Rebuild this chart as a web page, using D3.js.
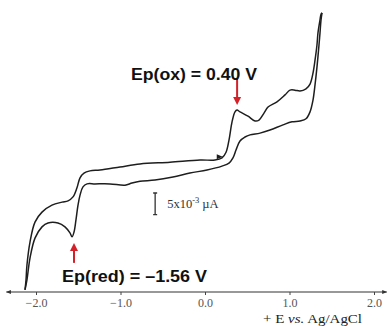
<!DOCTYPE html>
<html>
<head>
<meta charset="utf-8">
<script src="https://cdn.jsdelivr.net/npm/d3@7"></script>
<style>
	body { margin: 0; background: #fff; }
	svg { display: block; }
</style>
</head>
<body>
<script>
// forward (anodic) scan, E in V vs Ag/AgCl, I in nA
const fwdE = [-2.13, -2.118, -2.107, -2.071, -2.012, -1.929, -1.811, -1.692, -1.621, -1.562, -1.515, -1.479, -1.432, -1.361, -1.243, -1.006, -0.769, -0.414, -0.059, 0.118, 0.201, 0.249, 0.284, 0.32, 0.355, 0.379, 0.414, 0.509, 0.592, 0.639, 0.698, 0.746, 0.852, 0.947, 1.006, 1.065, 1.124, 1.195, 1.243, 1.278, 1.302, 1.325, 1.337, 1.361, 1.373, 1.385]
const fwdI = [-27.6, -25.3, -21.9, -16.6, -12.0, -9.7, -8.1, -7.4, -7.1, -6.2, -4.1, -1.8, -0.7, -0.2, 0, 0.7, 1.4, 1.8, 2.3, 2.3, 2.8, 4.1, 6.9, 11.1, 13.4, 13.8, 13.4, 12.4, 11.3, 11.5, 13.1, 14.5, 15.7, 17.3, 18.4, 18.4, 18.2, 18.7, 19.8, 22.3, 25.3, 28.8, 31.6, 34.6, 35.9, 36.2]
// reverse (cathodic) scan
const revE = [1.385, 1.373, 1.361, 1.349, 1.325, 1.302, 1.278, 1.243, 1.195, 1.124, 1.03, 0.923, 0.769, 0.651, 0.533, 0.473, 0.414, 0.367, 0.331, 0.284, 0.201, 0.024, -0.178, -0.379, -0.592, -0.769, -0.864, -0.947, -1.124, -1.302, -1.396, -1.444, -1.479, -1.503, -1.527, -1.55, -1.574, -1.598, -1.657, -1.74, -1.858, -1.929, -2.012, -2.071, -2.107, -2.13]
const revI = [36.2, 34.6, 31.6, 28.8, 23.7, 19.6, 16.1, 13.4, 11.8, 11.3, 11.1, 10.4, 9.2, 8.5, 8.1, 7.6, 6.7, 4.6, 2.8, 1.6, 0.9, 0, -0.7, -1.6, -2.3, -2.6, -3.0, -3.5, -3.2, -3.2, -3.2, -3.9, -5.8, -8.1, -11.5, -14.3, -15.4, -14.5, -13.1, -12.2, -12.2, -13.1, -15.7, -20.3, -25.3, -27.6]

const tickValues = [-2, -1, 0, 1, 2]
const axisTitle = ['+ E ', 'vs.', ' Ag/AgCl']
const oxLabel = 'Ep(ox) = 0.40 V'
const redLabel = 'Ep(red) = \u20131.56 V'
const oxArrowE = 0.38, oxArrowI = [21.2, 15.0]
const redArrowE = -1.55, redArrowI = [-21.4, -16.8]
const scanArrowE = 0.21
const scaleBarE = -0.59, scaleBarTop = -5.3, scaleBarValue = 5

const width = 388, height = 326
const svg = d3.select('body').append('svg').attr('width', width).attr('height', height)

const x = d3.scaleLinear().domain([-2, 2]).range([36, 374])
const y = d3.scaleLinear().domain([-30, 40]).range([300.2, -3.6])
const axisY = 292

const defs = svg.append('defs')
defs.append('marker').attr('id', 'axhead')
	.attr('viewBox', '0 0 10 10').attr('refX', 9).attr('refY', 5)
	.attr('markerWidth', 6).attr('markerHeight', 5).attr('orient', 'auto-start-reverse')
	.attr('markerUnits', 'userSpaceOnUse')
	.append('path').attr('d', 'M0,1 L10,5 L0,9 Z').attr('fill', '#333')

// x axis
svg.append('line')
	.attr('x1', x(-2.35)).attr('x2', x(2.15))
	.attr('y1', axisY).attr('y2', axisY)
	.attr('stroke', '#333').attr('stroke-width', 1.2)
	.attr('marker-start', 'url(#axhead)').attr('marker-end', 'url(#axhead)')
const gx = svg.append('g').attr('transform', `translate(0,${axisY})`)
	.call(d3.axisBottom(x).tickValues(tickValues).tickSize(3).tickPadding(3).tickFormat(d3.format('.1f')))
gx.select('.domain').remove()
gx.selectAll('.tick line').attr('stroke', '#444')
gx.selectAll('.tick text')
	.attr('font-family', '"Liberation Serif", "Times New Roman", serif')
	.attr('font-size', 12).attr('fill', '#555')

const title = svg.append('text')
	.attr('x', 263).attr('y', 323)
	.attr('font-family', '"Liberation Serif", "Times New Roman", serif')
	.attr('font-size', 12).attr('fill', '#222')
	.attr('textLength', 99).attr('lengthAdjust', 'spacingAndGlyphs')
title.selectAll('tspan').data(axisTitle).join('tspan')
	.attr('font-style', (_, i) => i === 1 ? 'italic' : null)
	.text(d => d)

// CV curves
const line = d3.line()
	.x(d => x(d[0]))
	.y(d => y(d[1]))
	.curve(d3.curveCatmullRom.alpha(0.5))
const curves = [d3.zip(fwdE, fwdI), d3.zip(revE, revI)]
svg.selectAll('path.cv').data(curves).join('path').classed('cv', true)
	.attr('d', line)
	.attr('fill', 'none')
	.attr('stroke', '#1e1e1e')
	.attr('stroke-width', 1.5)
	.attr('stroke-linejoin', 'round')

// scan direction arrow on the forward branch
const scanI = d3.scaleLinear().domain(fwdE).range(fwdI)(scanArrowE)
const sx = x(scanArrowE), sy = y(scanI)
svg.append('path')
	.attr('d', `M${sx - 6},${sy - 2.5} L${sx},${sy} L${sx - 6},${sy + 2.5} Z`)
	.attr('fill', '#1e1e1e')

// scale bar
const bx = x(scaleBarE)
const by0 = y(scaleBarTop), by1 = y(scaleBarTop - scaleBarValue)
svg.append('path')
	.attr('d', `M${bx},${by0} V${by1} M${bx - 2},${by0} H${bx + 2} M${bx - 2},${by1} H${bx + 2}`)
	.attr('stroke', '#333').attr('stroke-width', 1.3).attr('fill', 'none')
const barText = svg.append('text')
	.attr('x', bx + 12).attr('y', (by0 + by1) / 2 + 4)
	.attr('font-family', '"Liberation Serif", "Times New Roman", serif')
	.attr('font-size', 12.5).attr('fill', '#333')
barText.append('tspan').text('5x10')
barText.append('tspan').attr('dy', -5).attr('font-size', 8.5).text('-3')
barText.append('tspan').attr('dy', 5).text(' \u00b5A')

// peak annotations
const red = '#d42028'
const arrow = (e, iFrom, iTo) => {
	const ax = x(e), y0 = y(iFrom), y1 = y(iTo)
	const dir = Math.sign(y1 - y0)
	svg.append('line')
		.attr('x1', ax).attr('x2', ax).attr('y1', y0).attr('y2', y1 - dir * 6)
		.attr('stroke', red).attr('stroke-width', 2)
	svg.append('path')
		.attr('d', `M${ax - 4},${y1 - dir * 8} L${ax},${y1} L${ax + 4},${y1 - dir * 8} Z`)
		.attr('fill', red)
}
arrow(oxArrowE, oxArrowI[0], oxArrowI[1])
arrow(redArrowE, redArrowI[0], redArrowI[1])

const boldFont = '"Liberation Sans", Arial, Helvetica, sans-serif'
svg.append('text')
	.attr('x', 131).attr('y', 80)
	.attr('font-family', boldFont).attr('font-weight', 'bold')
	.attr('font-size', 16).attr('fill', '#111')
	.attr('textLength', 126).attr('lengthAdjust', 'spacingAndGlyphs')
	.text(oxLabel)
svg.append('text')
	.attr('x', 62).attr('y', 282)
	.attr('font-family', boldFont).attr('font-weight', 'bold')
	.attr('font-size', 16).attr('fill', '#111')
	.attr('textLength', 145).attr('lengthAdjust', 'spacingAndGlyphs')
	.text(redLabel)
</script>
</body>
</html>
